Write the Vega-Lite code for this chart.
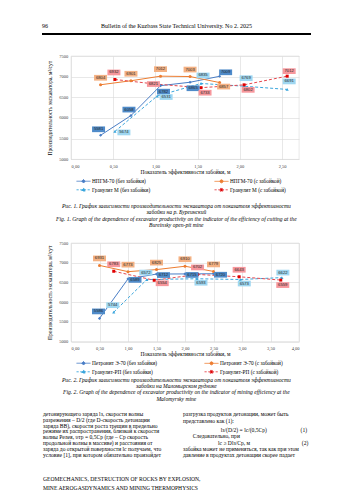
{
  "$schema": "https://vega.github.io/schema/vega-lite/v6.json",
  "background": "white",
  "padding": {"left": 41, "top": 22, "right": 5, "bottom": 5},
  "spacing": 9,
  "resolve": {"scale": {"color": "independent", "stroke": "independent", "shape": "independent", "strokeDash": "independent"}, "legend": {"color": "independent", "stroke": "independent", "shape": "independent", "strokeDash": "independent"}},
  "config": {
    "locale": {"number": {"decimal": ",", "thousands": "\u00a0", "grouping": [3], "currency": ["", ""]}},
    "view": {"stroke": "#d9d9d9", "strokeWidth": 0.6},
    "axis": {"grid": true, "gridColor": "#d9d9d9", "gridWidth": 0.6, "domain": false, "ticks": false, "tickSize": 0, "labelFont": "Liberation Serif", "labelFontSize": 4.5, "labelColor": "#404040", "titleFont": "Liberation Serif", "titleFontSize": 5.5, "titleFontWeight": "normal", "titleColor": "#000"},
    "legend": {"orient": "bottom", "columns": 2, "offset": 1.5, "rowPadding": 0.8, "symbolSize": 25, "symbolStrokeWidth": 0.9, "labelFontSize": 5.3, "labelFont": "Liberation Serif", "labelColor": "#000", "labelOffset": 15, "padding": 0},
    "title": {"font": "Liberation Serif", "fontSize": 5.6, "fontStyle": "italic", "fontWeight": "normal", "color": "#000"}
  },
  "vconcat": [
    {
      "width": 228, "height": 19.7,
      "view": {"stroke": null},
      "data": {"values": [{"page": "96", "journal": "Bulletin of the Kuzbass State Technical University. No 2. 2025"}]},
      "layer": [
        {"mark": {"type": "text", "align": "left", "baseline": "middle", "font": "Liberation Serif", "fontSize": 6, "color": "#000"},
         "encoding": {"x": {"datum": 0, "type": "quantitative", "scale": {"domain": [0, 1], "range": [-29, 240], "nice": false, "zero": false}, "axis": null},
                      "y": {"datum": 0.848, "type": "quantitative", "scale": {"domain": [0, 1], "nice": false, "zero": false}, "axis": null},
                      "text": {"field": "page"}}},
        {"mark": {"type": "text", "align": "center", "baseline": "middle", "font": "Liberation Serif", "fontSize": 6, "color": "#000"},
         "encoding": {"x": {"datum": 0.5, "type": "quantitative", "axis": null},
                      "y": {"datum": 0.848, "type": "quantitative", "axis": null},
                      "text": {"field": "journal"}}},
        {"mark": {"type": "rule", "strokeWidth": 1.8, "color": "#000"},
         "encoding": {"x": {"datum": 0, "type": "quantitative", "axis": null}, "x2": {"datum": 1},
                      "y": {"datum": 0.442, "type": "quantitative", "axis": null}}}
      ]
    },
    {
      "width": 228, "height": 103.3,
      "title": {"text": ["Рис. 1. График зависимости производительности экскаватора от показателя эффективности", "забойки на р. Буреинский", "Fig. 1. Graph of the dependence of excavator productivity on the indicator of the efficiency of cutting at the", "Bureinsky open-pit mine"], "orient": "bottom", "anchor": "middle", "frame": "bounds", "offset": 10, "lineHeight": 6.4, "dx": 3},
      "data": {"values": [
        {"s": "НПГМ-70 (без забойки)", "x": 0.35, "y": 5581},
        {"s": "НПГМ-70 (без забойки)", "x": 0.71, "y": 6058},
        {"s": "НПГМ-70 (без забойки)", "x": 1.06, "y": 6782},
        {"s": "НПГМ-70 (без забойки)", "x": 1.41, "y": 6865},
        {"s": "НПГМ-70 (без забойки)", "x": 1.76, "y": 7009},
        {"s": "НПГМ-70 (с забойкой)", "x": 0.35, "y": 6804},
        {"s": "НПГМ-70 (с забойкой)", "x": 0.71, "y": 6901},
        {"s": "НПГМ-70 (с забойкой)", "x": 1.06, "y": 7012},
        {"s": "НПГМ-70 (с забойкой)", "x": 1.41, "y": 7003},
        {"s": "НПГМ-70 (с забойкой)", "x": 1.76, "y": 6857},
        {"s": "Гранулит М (без забойки)", "x": 0.52, "y": 5674},
        {"s": "Гранулит М (без забойки)", "x": 1.02, "y": 6531},
        {"s": "Гранулит М (без забойки)", "x": 1.54, "y": 6835},
        {"s": "Гранулит М (без забойки)", "x": 2.05, "y": 6769},
        {"s": "Гранулит М (без забойки)", "x": 2.56, "y": 6691},
        {"s": "Гранулит М (с забойкой)", "x": 0.52, "y": 6932},
        {"s": "Гранулит М (с забойкой)", "x": 1.0, "y": 6821},
        {"s": "Гранулит М (с забойкой)", "x": 1.54, "y": 6733},
        {"s": "Гранулит М (с забойкой)", "x": 2.05, "y": 6802},
        {"s": "Гранулит М (с забойкой)", "x": 2.56, "y": 7012}
      ]},
      "encoding": {
        "x": {"field": "x", "type": "quantitative", "scale": {"domain": [0, 2.7], "nice": false, "zero": false},
              "axis": {"values": [0, 0.5, 1, 1.5, 2, 2.5], "format": ".2f", "title": "Показатель эффективности забойки, м", "labelPadding": 3.8, "titlePadding": 2}},
        "y": {"field": "y", "type": "quantitative", "scale": {"domain": [5000, 7500], "nice": false, "zero": false},
              "axis": {"values": [5000, 5500, 6000, 6500, 7000, 7500], "format": "d", "title": "Производительность экскаватора, м³/сут", "labelPadding": 3.3, "titlePadding": 6}}
      },
      "layer": [
        {"transform": [{"filter": "datum.s === 'НПГМ-70 (без забойки)'"}], "mark": {"type": "line", "color": "#4A7EC6", "strokeWidth": 1}},
        {"transform": [{"filter": "datum.s === 'НПГМ-70 (с забойкой)'"}], "mark": {"type": "line", "color": "#ED7D31", "strokeWidth": 1}},
        {"transform": [{"filter": "datum.s === 'Гранулит М (без забойки)'"}], "mark": {"type": "line", "color": "#3AA6DD", "strokeWidth": 1, "strokeDash": [3, 2]}},
        {"transform": [{"filter": "datum.s === 'Гранулит М (с забойкой)'"}], "mark": {"type": "line", "color": "#E5484F", "strokeWidth": 1, "strokeDash": [3, 2]}},
        {"transform": [{"filter": "datum.s === 'НПГМ-70 (без забойки)'"}], "mark": {"type": "point", "shape": "diamond", "filled": true, "color": "#4A7EC6", "size": 10, "opacity": 1}},
        {"transform": [{"filter": "datum.s === 'НПГМ-70 (с забойкой)'"}], "mark": {"type": "point", "shape": "circle", "filled": true, "color": "#ED7D31", "size": 9, "opacity": 1}},
        {"transform": [{"filter": "datum.s === 'Гранулит М (без забойки)'"}], "mark": {"type": "point", "shape": "triangle-up", "filled": true, "color": "#3AA6DD", "size": 10, "opacity": 1}},
        {"transform": [{"filter": "datum.s === 'Гранулит М (с забойкой)'"}], "mark": {"type": "point", "shape": "square", "filled": true, "color": "#E00000", "size": 9, "opacity": 1}},
        {"transform": [{"filter": "datum.s === 'НПГМ-70 (без забойки)' && datum.x < 0.8"}], "layer": [
          {"mark": {"type": "point", "shape": "M-1,-0.44H1V0.44H-1Z", "filled": true, "fill": "#4F8BC9", "strokeWidth": 0, "size": 169, "opacity": 1, "xOffset": -2, "yOffset": -6}},
          {"mark": {"type": "text", "font": "Liberation Sans", "fontSize": 4.2, "color": "#262626", "dx": -2, "dy": -6}, "encoding": {"text": {"field": "y", "type": "quantitative", "format": "d"}}}]},
        {"transform": [{"filter": "datum.s === 'НПГМ-70 (без забойки)' && datum.x >= 0.8 && datum.x < 1.5"}], "layer": [
          {"mark": {"type": "point", "shape": "M-1,-0.44H1V0.44H-1Z", "filled": true, "fill": "#4F8BC9", "strokeWidth": 0, "size": 169, "opacity": 1, "xOffset": 3, "yOffset": 6}},
          {"mark": {"type": "text", "font": "Liberation Sans", "fontSize": 4.2, "color": "#262626", "dx": 3, "dy": 6}, "encoding": {"text": {"field": "y", "type": "quantitative", "format": "d"}}}]},
        {"transform": [{"filter": "datum.s === 'НПГМ-70 (без забойки)' && datum.x >= 1.5"}], "layer": [
          {"mark": {"type": "point", "shape": "M-1,-0.44H1V0.44H-1Z", "filled": true, "fill": "#4F8BC9", "strokeWidth": 0, "size": 169, "opacity": 1, "xOffset": 6, "yOffset": -4}},
          {"mark": {"type": "text", "font": "Liberation Sans", "fontSize": 4.2, "color": "#262626", "dx": 6, "dy": -4}, "encoding": {"text": {"field": "y", "type": "quantitative", "format": "d"}}}]},
        {"transform": [{"filter": "datum.s === 'НПГМ-70 (с забойкой)' && datum.x < 1.6"}], "layer": [
          {"mark": {"type": "point", "shape": "M-1,-0.44H1V0.44H-1Z", "filled": true, "fill": "#F4B183", "strokeWidth": 0, "size": 169, "opacity": 1, "xOffset": 0, "yOffset": -7}},
          {"mark": {"type": "text", "font": "Liberation Sans", "fontSize": 4.2, "color": "#262626", "dx": 0, "dy": -7}, "encoding": {"text": {"field": "y", "type": "quantitative", "format": "d"}}}]},
        {"transform": [{"filter": "datum.s === 'НПГМ-70 (с забойкой)' && datum.x >= 1.6"}], "layer": [
          {"mark": {"type": "point", "shape": "M-1,-0.44H1V0.44H-1Z", "filled": true, "fill": "#F4B183", "strokeWidth": 0, "size": 169, "opacity": 1, "xOffset": 4, "yOffset": 4}},
          {"mark": {"type": "text", "font": "Liberation Sans", "fontSize": 4.2, "color": "#262626", "dx": 4, "dy": 4}, "encoding": {"text": {"field": "y", "type": "quantitative", "format": "d"}}}]},
        {"transform": [{"filter": "datum.s === 'Гранулит М (без забойки)' && datum.x < 1.2"}], "layer": [
          {"mark": {"type": "point", "shape": "M-1,-0.44H1V0.44H-1Z", "filled": true, "fill": "#9FD7F1", "strokeWidth": 0, "size": 169, "opacity": 1, "xOffset": 9, "yOffset": 1}},
          {"mark": {"type": "text", "font": "Liberation Sans", "fontSize": 4.2, "color": "#262626", "dx": 9, "dy": 1}, "encoding": {"text": {"field": "y", "type": "quantitative", "format": "d"}}}]},
        {"transform": [{"filter": "datum.s === 'Гранулит М (без забойки)' && datum.x >= 1.2"}], "layer": [
          {"mark": {"type": "point", "shape": "M-1,-0.44H1V0.44H-1Z", "filled": true, "fill": "#9FD7F1", "strokeWidth": 0, "size": 169, "opacity": 1, "xOffset": 2, "yOffset": -8}},
          {"mark": {"type": "text", "font": "Liberation Sans", "fontSize": 4.2, "color": "#262626", "dx": 2, "dy": -8}, "encoding": {"text": {"field": "y", "type": "quantitative", "format": "d"}}}]},
        {"transform": [{"filter": "datum.s === 'Гранулит М (с забойкой)' && datum.x < 0.6"}], "layer": [
          {"mark": {"type": "point", "shape": "M-1,-0.44H1V0.44H-1Z", "filled": true, "fill": "#F7979C", "strokeWidth": 0, "size": 169, "opacity": 1, "xOffset": -1, "yOffset": -7}},
          {"mark": {"type": "text", "font": "Liberation Sans", "fontSize": 4.2, "color": "#262626", "dx": -1, "dy": -7}, "encoding": {"text": {"field": "y", "type": "quantitative", "format": "d"}}}]},
        {"transform": [{"filter": "datum.s === 'Гранулит М (с забойкой)' && datum.x >= 0.6 && datum.x < 1.2"}], "layer": [
          {"mark": {"type": "point", "shape": "M-1,-0.44H1V0.44H-1Z", "filled": true, "fill": "#F7979C", "strokeWidth": 0, "size": 169, "opacity": 1, "xOffset": -2, "yOffset": 0}},
          {"mark": {"type": "text", "font": "Liberation Sans", "fontSize": 4.2, "color": "#262626", "dx": -2, "dy": 0}, "encoding": {"text": {"field": "y", "type": "quantitative", "format": "d"}}}]},
        {"transform": [{"filter": "datum.s === 'Гранулит М (с забойкой)' && datum.x >= 1.2 && datum.x < 2.3"}], "layer": [
          {"mark": {"type": "point", "shape": "M-1,-0.44H1V0.44H-1Z", "filled": true, "fill": "#F7979C", "strokeWidth": 0, "size": 169, "opacity": 1, "xOffset": 4, "yOffset": 5}},
          {"mark": {"type": "text", "font": "Liberation Sans", "fontSize": 4.2, "color": "#262626", "dx": 4, "dy": 5}, "encoding": {"text": {"field": "y", "type": "quantitative", "format": "d"}}}]},
        {"transform": [{"filter": "datum.s === 'Гранулит М (с забойкой)' && datum.x >= 2.3"}], "layer": [
          {"mark": {"type": "point", "shape": "M-1,-0.44H1V0.44H-1Z", "filled": true, "fill": "#F7979C", "strokeWidth": 0, "size": 169, "opacity": 1, "xOffset": 2, "yOffset": -5}},
          {"mark": {"type": "text", "font": "Liberation Sans", "fontSize": 4.2, "color": "#262626", "dx": 2, "dy": -5}, "encoding": {"text": {"field": "y", "type": "quantitative", "format": "d"}}}]},
        {"transform": [{"filter": "false"}],
         "mark": {"type": "point", "filled": true, "strokeWidth": 0.9, "opacity": 1},
         "encoding": {
           "color": {"field": "s", "type": "nominal", "scale": {"domain": ["НПГМ-70 (без забойки)", "НПГМ-70 (с забойкой)", "Гранулит М (без забойки)", "Гранулит М (с забойкой)"], "range": ["#4A7EC6", "#ED7D31", "#3AA6DD", "#E00000"]}, "legend": {"title": null, "columnPadding": 58}},
           "stroke": {"field": "s", "type": "nominal", "scale": {"domain": ["НПГМ-70 (без забойки)", "НПГМ-70 (с забойкой)", "Гранулит М (без забойки)", "Гранулит М (с забойкой)"], "range": ["#4A7EC6", "#ED7D31", "#3AA6DD", "#E5484F"]}, "legend": {"title": null, "columnPadding": 58}},
           "shape": {"field": "s", "type": "nominal", "scale": {"domain": ["НПГМ-70 (без забойки)", "НПГМ-70 (с забойкой)", "Гранулит М (без забойки)", "Гранулит М (с забойкой)"], "range": ["M1,0H6.6M3.8,-0.7L4.5,0L3.8,0.7L3.1,0Z", "M1,0H6.6M4.4,0A0.6,0.6,0,1,1,3.2,0A0.6,0.6,0,1,1,4.4,0Z", "M1,0H6.6M3.8,-0.75L4.55,0.5L3.05,0.5Z", "M1,0H6.6M3.25,-0.55H4.35V0.55H3.25Z"]}, "legend": {"title": null, "columnPadding": 58}},
           "strokeDash": {"field": "s", "type": "nominal", "scale": {"domain": ["НПГМ-70 (без забойки)", "НПГМ-70 (с забойкой)", "Гранулит М (без забойки)", "Гранулит М (с забойкой)"], "range": [[1, 0], [1, 0], [2.2, 1.5], [2.2, 1.5]]}, "legend": {"title": null, "columnPadding": 58}}
         }}
      ]
    },
    {
      "width": 228, "height": 98.5,
      "title": {"text": ["Рис. 2. График зависимости производительности экскаватора от показателя эффективности", "забойки на Маломырском руднике", "Fig. 2. Graph of the dependence of excavator productivity on the indicator of mining efficiency at the", "Malomyrsky mine"], "orient": "bottom", "anchor": "middle", "frame": "bounds", "offset": 1.5, "lineHeight": 6.4, "dx": 3},
      "data": {"values": [
        {"s": "Петронит Э-70 (без забойки)", "x": 0.5, "y": 5586},
        {"s": "Петронит Э-70 (без забойки)", "x": 1.0, "y": 6589},
        {"s": "Петронит Э-70 (без забойки)", "x": 1.5, "y": 6712},
        {"s": "Петронит Э-70 (без забойки)", "x": 2.0, "y": 6715},
        {"s": "Петронит Э-70 (без забойки)", "x": 2.5, "y": 6720},
        {"s": "Петронит Э-70 (с забойкой)", "x": 0.5, "y": 6931},
        {"s": "Петронит Э-70 (с забойкой)", "x": 1.0, "y": 6773},
        {"s": "Петронит Э-70 (с забойкой)", "x": 1.5, "y": 6825},
        {"s": "Петронит Э-70 (с забойкой)", "x": 2.0, "y": 6910},
        {"s": "Петронит Э-70 (с забойкой)", "x": 2.5, "y": 6779},
        {"s": "Гранулит-РП (без забойки)", "x": 0.75, "y": 5744},
        {"s": "Гранулит-РП (без забойки)", "x": 1.33, "y": 6572},
        {"s": "Гранулит-РП (без забойки)", "x": 2.21, "y": 6593},
        {"s": "Гранулит-РП (без забойки)", "x": 2.97, "y": 6573},
        {"s": "Гранулит-РП (без забойки)", "x": 3.7, "y": 6622},
        {"s": "Гранулит-РП (с забойкой)", "x": 0.75, "y": 6783},
        {"s": "Гранулит-РП (с забойкой)", "x": 1.46, "y": 6554},
        {"s": "Гранулит-РП (с забойкой)", "x": 2.22, "y": 6702},
        {"s": "Гранулит-РП (с забойкой)", "x": 2.95, "y": 6643},
        {"s": "Гранулит-РП (с забойкой)", "x": 3.68, "y": 6559}
      ]},
      "encoding": {
        "x": {"field": "x", "type": "quantitative", "scale": {"domain": [0, 4], "nice": false, "zero": false},
              "axis": {"values": [0, 0.5, 1, 1.5, 2, 2.5, 3, 3.5, 4], "format": ".2f", "title": "Показатель эффективности забойки, м", "labelPadding": 3.8, "titlePadding": 2}},
        "y": {"field": "y", "type": "quantitative", "scale": {"domain": [5000, 7500], "nice": false, "zero": false},
              "axis": {"values": [5000, 5500, 6000, 6500, 7000, 7500], "format": "d", "title": "Производительность экскаватора, м³/сут", "labelPadding": 3.3, "titlePadding": 6}}
      },
      "layer": [
        {"transform": [{"filter": "datum.s === 'Петронит Э-70 (без забойки)'"}], "mark": {"type": "line", "color": "#4A7EC6", "strokeWidth": 1}},
        {"transform": [{"filter": "datum.s === 'Петронит Э-70 (с забойкой)'"}], "mark": {"type": "line", "color": "#ED7D31", "strokeWidth": 1}},
        {"transform": [{"filter": "datum.s === 'Гранулит-РП (без забойки)'"}], "mark": {"type": "line", "color": "#3AA6DD", "strokeWidth": 1, "strokeDash": [3, 2]}},
        {"transform": [{"filter": "datum.s === 'Гранулит-РП (с забойкой)'"}], "mark": {"type": "line", "color": "#E5484F", "strokeWidth": 1, "strokeDash": [3, 2]}},
        {"transform": [{"filter": "datum.s === 'Петронит Э-70 (без забойки)'"}], "mark": {"type": "point", "shape": "diamond", "filled": true, "color": "#4A7EC6", "size": 10, "opacity": 1}},
        {"transform": [{"filter": "datum.s === 'Петронит Э-70 (с забойкой)'"}], "mark": {"type": "point", "shape": "circle", "filled": true, "color": "#ED7D31", "size": 9, "opacity": 1}},
        {"transform": [{"filter": "datum.s === 'Гранулит-РП (без забойки)'"}], "mark": {"type": "point", "shape": "triangle-up", "filled": true, "color": "#3AA6DD", "size": 10, "opacity": 1}},
        {"transform": [{"filter": "datum.s === 'Гранулит-РП (с забойкой)'"}], "mark": {"type": "point", "shape": "square", "filled": true, "color": "#E00000", "size": 9, "opacity": 1}},
        {"transform": [{"filter": "datum.s === 'Петронит Э-70 (без забойки)' && datum.x < 0.8"}], "layer": [
          {"mark": {"type": "point", "shape": "M-1,-0.44H1V0.44H-1Z", "filled": true, "fill": "#4F8BC9", "strokeWidth": 0, "size": 169, "opacity": 1, "xOffset": -1, "yOffset": -7}},
          {"mark": {"type": "text", "font": "Liberation Sans", "fontSize": 4.2, "color": "#262626", "dx": -1, "dy": -7}, "encoding": {"text": {"field": "y", "type": "quantitative", "format": "d"}}}]},
        {"transform": [{"filter": "datum.s === 'Петронит Э-70 (без забойки)' && datum.x >= 0.8"}], "layer": [
          {"mark": {"type": "point", "shape": "M-1,-0.44H1V0.44H-1Z", "filled": true, "fill": "#4F8BC9", "strokeWidth": 0, "size": 169, "opacity": 1, "xOffset": 7, "yOffset": 1}},
          {"mark": {"type": "text", "font": "Liberation Sans", "fontSize": 4.2, "color": "#262626", "dx": 7, "dy": 1}, "encoding": {"text": {"field": "y", "type": "quantitative", "format": "d"}}}]},
        {"transform": [{"filter": "datum.s === 'Петронит Э-70 (с забойкой)'"}], "layer": [
          {"mark": {"type": "point", "shape": "M-1,-0.44H1V0.44H-1Z", "filled": true, "fill": "#F4B183", "strokeWidth": 0, "size": 169, "opacity": 1, "xOffset": 0, "yOffset": -7}},
          {"mark": {"type": "text", "font": "Liberation Sans", "fontSize": 4.2, "color": "#262626", "dx": 0, "dy": -7}, "encoding": {"text": {"field": "y", "type": "quantitative", "format": "d"}}}]},
        {"transform": [{"filter": "datum.s === 'Гранулит-РП (без забойки)' && datum.x < 1.6"}], "layer": [
          {"mark": {"type": "point", "shape": "M-1,-0.44H1V0.44H-1Z", "filled": true, "fill": "#9FD7F1", "strokeWidth": 0, "size": 169, "opacity": 1, "xOffset": -1, "yOffset": -7}},
          {"mark": {"type": "text", "font": "Liberation Sans", "fontSize": 4.2, "color": "#262626", "dx": -1, "dy": -7}, "encoding": {"text": {"field": "y", "type": "quantitative", "format": "d"}}}]},
        {"transform": [{"filter": "datum.s === 'Гранулит-РП (без забойки)' && datum.x >= 1.6 && datum.x < 3.3"}], "layer": [
          {"mark": {"type": "point", "shape": "M-1,-0.44H1V0.44H-1Z", "filled": true, "fill": "#9FD7F1", "strokeWidth": 0, "size": 169, "opacity": 1, "xOffset": 4, "yOffset": 4}},
          {"mark": {"type": "text", "font": "Liberation Sans", "fontSize": 4.2, "color": "#262626", "dx": 4, "dy": 4}, "encoding": {"text": {"field": "y", "type": "quantitative", "format": "d"}}}]},
        {"transform": [{"filter": "datum.s === 'Гранулит-РП (без забойки)' && datum.x >= 3.3"}], "layer": [
          {"mark": {"type": "point", "shape": "M-1,-0.44H1V0.44H-1Z", "filled": true, "fill": "#9FD7F1", "strokeWidth": 0, "size": 169, "opacity": 1, "xOffset": 1, "yOffset": -5}},
          {"mark": {"type": "text", "font": "Liberation Sans", "fontSize": 4.2, "color": "#262626", "dx": 1, "dy": -5}, "encoding": {"text": {"field": "y", "type": "quantitative", "format": "d"}}}]},
        {"transform": [{"filter": "datum.s === 'Гранулит-РП (с забойкой)' && (datum.x < 1.2 || (datum.x >= 1.7 && datum.x < 3.3))"}], "layer": [
          {"mark": {"type": "point", "shape": "M-1,-0.44H1V0.44H-1Z", "filled": true, "fill": "#F7979C", "strokeWidth": 0, "size": 169, "opacity": 1, "xOffset": 0, "yOffset": -7}},
          {"mark": {"type": "text", "font": "Liberation Sans", "fontSize": 4.2, "color": "#262626", "dx": 0, "dy": -7}, "encoding": {"text": {"field": "y", "type": "quantitative", "format": "d"}}}]},
        {"transform": [{"filter": "datum.s === 'Гранулит-РП (с забойкой)' && datum.x >= 1.2 && datum.x < 1.7"}], "layer": [
          {"mark": {"type": "point", "shape": "M-1,-0.44H1V0.44H-1Z", "filled": true, "fill": "#F7979C", "strokeWidth": 0, "size": 169, "opacity": 1, "xOffset": 8, "yOffset": 3}},
          {"mark": {"type": "text", "font": "Liberation Sans", "fontSize": 4.2, "color": "#262626", "dx": 8, "dy": 3}, "encoding": {"text": {"field": "y", "type": "quantitative", "format": "d"}}}]},
        {"transform": [{"filter": "datum.s === 'Гранулит-РП (с забойкой)' && datum.x >= 3.3"}], "layer": [
          {"mark": {"type": "point", "shape": "M-1,-0.44H1V0.44H-1Z", "filled": true, "fill": "#F7979C", "strokeWidth": 0, "size": 169, "opacity": 1, "xOffset": 2, "yOffset": 5}},
          {"mark": {"type": "text", "font": "Liberation Sans", "fontSize": 4.2, "color": "#262626", "dx": 2, "dy": 5}, "encoding": {"text": {"field": "y", "type": "quantitative", "format": "d"}}}]},
        {"transform": [{"filter": "false"}],
         "mark": {"type": "point", "filled": true, "strokeWidth": 0.9, "opacity": 1},
         "encoding": {
           "color": {"field": "s", "type": "nominal", "scale": {"domain": ["Петронит Э-70 (без забойки)", "Петронит Э-70 (с забойкой)", "Гранулит-РП (без забойки)", "Гранулит-РП (с забойкой)"], "range": ["#4A7EC6", "#ED7D31", "#3AA6DD", "#E00000"]}, "legend": {"title": null, "columnPadding": 41}},
           "stroke": {"field": "s", "type": "nominal", "scale": {"domain": ["Петронит Э-70 (без забойки)", "Петронит Э-70 (с забойкой)", "Гранулит-РП (без забойки)", "Гранулит-РП (с забойкой)"], "range": ["#4A7EC6", "#ED7D31", "#3AA6DD", "#E5484F"]}, "legend": {"title": null, "columnPadding": 41}},
           "shape": {"field": "s", "type": "nominal", "scale": {"domain": ["Петронит Э-70 (без забойки)", "Петронит Э-70 (с забойкой)", "Гранулит-РП (без забойки)", "Гранулит-РП (с забойкой)"], "range": ["M1,0H6.6M3.8,-0.7L4.5,0L3.8,0.7L3.1,0Z", "M1,0H6.6M4.4,0A0.6,0.6,0,1,1,3.2,0A0.6,0.6,0,1,1,4.4,0Z", "M1,0H6.6M3.8,-0.75L4.55,0.5L3.05,0.5Z", "M1,0H6.6M3.25,-0.55H4.35V0.55H3.25Z"]}, "legend": {"title": null, "columnPadding": 41}},
           "strokeDash": {"field": "s", "type": "nominal", "scale": {"domain": ["Петронит Э-70 (без забойки)", "Петронит Э-70 (с забойкой)", "Гранулит-РП (без забойки)", "Гранулит-РП (с забойкой)"], "range": [[1, 0], [1, 0], [2.2, 1.5], [2.2, 1.5]]}, "legend": {"title": null, "columnPadding": 41}}
         }}
      ]
    },
    {
      "width": 228, "height": 73.5,
      "view": {"stroke": null},
      "data": {"values": [
        {"col": "L", "line": 1, "t": "детонирующего заряда lз, скорости волны"},
        {"col": "L", "line": 2, "t": "разрежения – D/2 (где D-скорость детонации"},
        {"col": "L", "line": 3, "t": "заряда ВВ), скорости роста трещин в предельно"},
        {"col": "L", "line": 4, "t": "режиме их распространения, близкой к скорости"},
        {"col": "L", "line": 5, "t": "волны Релея, υтр = 0,5Cр (где – Cр скорость"},
        {"col": "L", "line": 6, "t": "продольной волны в массиве) и расстояния от"},
        {"col": "L", "line": 7, "t": "заряда до открытой поверхности lс получаем, что"},
        {"col": "L", "line": 8, "t": "условие [1], при котором обязательно произойдет"},
        {"col": "L", "line": 12.3, "t": "GEOMECHANICS, DESTRUCTION OF ROCKS BY EXPLOSION,"},
        {"col": "L", "line": 13.7, "t": "MINE AEROGASDYNAMICS AND MINING THERMOPHYSICS"},
        {"col": "R", "line": 1, "t": "разгрузка продуктов детонации, может быть"},
        {"col": "R", "line": 2.2, "t": "представлено как (1):"},
        {"col": "R", "line": 3.7, "t": "\u200b\u00a0\u00a0\u00a0\u00a0\u00a0\u00a0\u00a0\u00a0\u00a0\u00a0\u00a0\u00a0\u00a0\u00a0\u00a0\u00a0\u00a0\u00a0\u00a0\u00a0\u00a0\u00a0\u00a0\u00a0\u00a0\u00a0\u00a0lз/(D/2) = lс/(0,5Cр)\u00a0\u00a0\u00a0\u00a0\u00a0\u00a0\u00a0\u00a0\u00a0\u00a0\u00a0\u00a0\u00a0\u00a0\u00a0\u00a0\u00a0\u00a0\u00a0\u00a0\u00a0\u00a0\u00a0\u00a0(1)"},
        {"col": "R", "line": 4.8, "t": "\u200b\u00a0\u00a0\u00a0\u00a0\u00a0\u00a0\u00a0Следовательно, при"},
        {"col": "R", "line": 6, "t": "\u200b\u00a0\u00a0\u00a0\u00a0\u00a0\u00a0\u00a0\u00a0\u00a0\u00a0\u00a0\u00a0\u00a0\u00a0\u00a0\u00a0\u00a0\u00a0\u00a0\u00a0\u00a0\u00a0\u00a0\u00a0\u00a0lс ≥ Dlз/Cр, м\u00a0\u00a0\u00a0\u00a0\u00a0\u00a0\u00a0\u00a0\u00a0\u00a0\u00a0\u00a0\u00a0\u00a0\u00a0\u00a0\u00a0\u00a0\u00a0\u00a0\u00a0\u00a0\u00a0\u00a0\u00a0\u00a0\u00a0\u00a0\u00a0\u00a0\u00a0\u00a0\u00a0\u00a0\u00a0\u00a0\u00a0(2)"},
        {"col": "R", "line": 7, "t": "забойка может не применяться, так как при этом"},
        {"col": "R", "line": 8, "t": "давление в продуктах детонации скорее падает"}
      ]},
      "mark": {"type": "text", "align": "left", "baseline": "middle", "font": "Liberation Serif", "fontSize": 5.6, "color": "#000"},
      "encoding": {
        "x": {"field": "col", "type": "nominal", "scale": {"type": "band", "domain": ["L", "R"], "range": [-28, 240], "paddingInner": 0.0857, "paddingOuter": 0}, "bandPosition": 0, "axis": null},
        "y": {"field": "line", "type": "quantitative", "scale": {"domain": [1, 13.7], "reverse": true, "nice": false, "zero": false}, "axis": null},
        "text": {"field": "t"}
      }
    }
  ]
}
